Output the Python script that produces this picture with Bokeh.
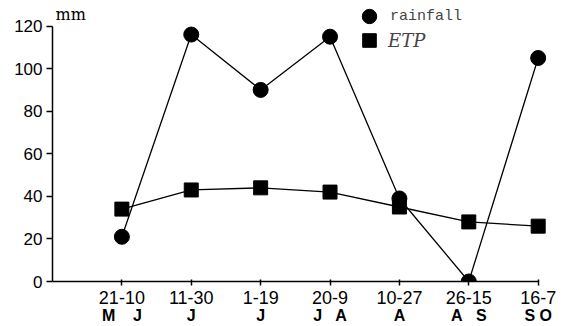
from bokeh.plotting import figure
from bokeh.models import LinearAxis, FixedTicker, Range1d, Legend, LegendItem, Label
from bokeh.embed import file_html
from bokeh.resources import INLINE

NB = "\u00a0"
positions = [1, 2, 3, 4, 5, 6, 7]
date_labels = ["21-10", "11-30", "1-19", "20-9", "10-27", "26-15", "16-7"]
month_labels = ["M" + NB * 4 + "J", "J", "J", "J" + NB * 3 + "A", "A", "A" + NB * 3 + "S", "S" + NB + "O"]
rainfall = [21, 116, 90, 115, 39, 0, 105]
etp = [34, 43, 44, 42, 35, 28, 26]
y_ticks = [0, 20, 40, 60, 80, 100, 120]

p = figure(width=564, height=326, x_range=Range1d(0, 7.12), y_range=Range1d(0, 132),
           output_backend="svg", toolbar_location=None,
           min_border_left=52, min_border_right=18, min_border_top=0, min_border_bottom=0)
p.outline_line_color = None
p.grid.visible = False
p.background_fill_color = "white"
p.border_fill_color = "white"

# y axis
p.yaxis.bounds = (0, 120)
p.yaxis.ticker = FixedTicker(ticks=y_ticks)
p.yaxis.major_tick_in = 0
p.yaxis.major_tick_out = 6
p.yaxis.minor_tick_line_color = None
p.yaxis.major_label_text_font = "Liberation Sans"
p.yaxis.major_label_text_font_size = "17px"
p.yaxis.major_label_text_color = "black"
p.yaxis.axis_line_width = 1.5
p.yaxis.major_tick_line_width = 1.5
p.yaxis.major_label_standoff = 4

# x axis
p.xaxis.bounds = (0, 7)
p.xaxis.ticker = FixedTicker(ticks=positions)
p.xaxis.major_label_overrides = {k: v for k, v in zip(positions, date_labels)}
p.xaxis.major_tick_in = 2
p.xaxis.major_tick_out = 4
p.xaxis.minor_tick_line_color = None
p.xaxis.major_label_text_font = "Liberation Sans"
p.xaxis.major_label_text_font_size = "18px"
p.xaxis.major_label_text_color = "black"
p.xaxis.axis_line_width = 1.5
p.xaxis.major_tick_line_width = 1.5
p.xaxis.major_label_standoff = 5

month_axis = LinearAxis(ticker=FixedTicker(ticks=positions),
                        major_label_overrides={k: v for k, v in zip(positions, month_labels)})
month_axis.axis_line_color = None
month_axis.major_tick_line_color = None
month_axis.minor_tick_line_color = None
month_axis.major_tick_in = 0
month_axis.major_tick_out = 0
month_axis.major_label_standoff = 0
month_axis.major_label_text_font = "Liberation Sans"
month_axis.major_label_text_font_style = "bold"
month_axis.major_label_text_font_size = "16px"
month_axis.major_label_text_color = "black"
p.add_layout(month_axis, "below")

p.line(positions, rainfall, line_color="black", line_width=1.3)
p.line(positions, etp, line_color="black", line_width=1.3)
r_rain = p.scatter(positions, rainfall, marker="circle", size=15, color="black")
r_etp = p.scatter(positions, etp, marker="square", size=14, color="black")

leg1 = Legend(items=[LegendItem(label="rainfall", renderers=[r_rain])],
              location=(299, 247), padding=0, margin=0, border_line_color=None,
              background_fill_alpha=0, glyph_height=36, glyph_width=36, label_height=14,
              label_standoff=3, label_text_font="Liberation Mono", label_text_font_size="15px")
leg2 = Legend(items=[LegendItem(label="ETP", renderers=[r_etp])],
              location=(300, 224), padding=0, margin=0, border_line_color=None,
              background_fill_alpha=0, glyph_height=34, glyph_width=34, label_height=14,
              label_standoff=2, label_text_font="DejaVu Serif", label_text_font_style="italic",
              label_text_font_size="18px")
p.add_layout(leg1, "center")
p.add_layout(leg2, "center")

p.add_layout(Label(x=0, y=120, x_offset=3, y_offset=2, text="mm", text_font="DejaVu Serif",
                   text_font_size="16px", text_color="black", text_baseline="bottom"))

open("out.html", "w").write(file_html(p, INLINE))
